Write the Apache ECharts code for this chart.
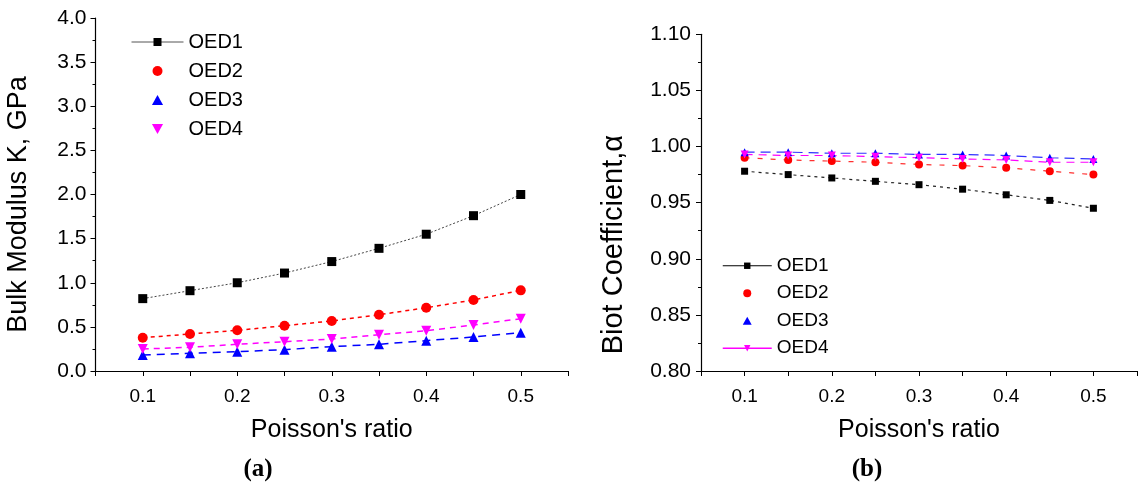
<!DOCTYPE html>
<html>
<head>
<meta charset="utf-8">
<script src="https://cdn.jsdelivr.net/npm/echarts@6/dist/echarts.min.js"></script>
<style>html,body{margin:0;padding:0;background:#fff;}#c{width:1140px;height:490px;}</style>
</head>
<body>
<div id="c"></div>
<script>
const poisson = [0.1, 0.15, 0.2, 0.25, 0.3, 0.35, 0.4, 0.45, 0.5];
const seriesNames = ['OED1', 'OED2', 'OED3', 'OED4'];
// (a) Bulk modulus K, GPa
const kOED1 = [0.82, 0.91, 1.00, 1.11, 1.24, 1.39, 1.55, 1.76, 2.00];
const kOED2 = [0.377, 0.419, 0.461, 0.513, 0.567, 0.638, 0.717, 0.805, 0.914];
const kOED3 = [0.181, 0.200, 0.219, 0.242, 0.276, 0.303, 0.344, 0.385, 0.434];
const kOED4 = [0.249, 0.269, 0.303, 0.332, 0.363, 0.411, 0.457, 0.521, 0.593];
// (b) Biot coefficient
const bOED1 = [0.978, 0.975, 0.972, 0.969, 0.966, 0.962, 0.957, 0.952, 0.945];
const bOED2 = [0.990, 0.988, 0.987, 0.986, 0.984, 0.983, 0.981, 0.978, 0.975];
const bOED3 = [0.995, 0.995, 0.994, 0.994, 0.993, 0.993, 0.992, 0.990, 0.989];
const bOED4 = [0.993, 0.992, 0.992, 0.991, 0.990, 0.989, 0.988, 0.986, 0.986];

const pair = arr => poisson.map((x, i) => [x, arr[i]]);
const FONT = 'Liberation Sans, Arial, sans-serif';
const invTri = 'path://M0,0L10,0L5,9Z';
const upTri = 'path://M5,0L10,9L0,9Z';

function xAxisCfg(gridIndex) {
  return {
    type: 'value', gridIndex, min: 0.05, max: 0.55, interval: 0.05,
    name: "Poisson's ratio", nameLocation: 'middle', nameGap: 47,
    nameTextStyle: { fontFamily: FONT, fontSize: 25, color: '#000' },
    axisLine: { show: true, onZero: false, lineStyle: { color: '#000', width: 1.2 } },
    axisTick: { show: true, inside: false, length: 5, lineStyle: { color: '#000' } },
    axisLabel: {
      margin: 16, fontFamily: FONT, fontSize: 19, color: '#000',
      formatter: v => (Math.round(v * 100) % 10 === 0 && v > 0.07 && v < 0.53) ? v.toFixed(1) : ''
    },
    splitLine: { show: false }
  };
}

const option = {
  backgroundColor: '#fff',
  animation: false,
  grid: [
    { left: 95.5, top: 18, right: 572, bottom: 119 },
    { left: 701, top: 34.3, right: -5.4, bottom: 119 }
  ],
  xAxis: [xAxisCfg(0), xAxisCfg(1)],
  yAxis: [
    {
      type: 'value', gridIndex: 0, min: 0, max: 4, interval: 0.5,
      name: 'Bulk Modulus K, GPa', nameLocation: 'middle', nameGap: 63,
      nameTextStyle: { fontFamily: FONT, fontSize: 27, color: '#000', padding: [0, 20, 0, 0] },
      axisLine: { show: true, lineStyle: { color: '#000', width: 1.2 } },
      axisTick: { show: true, length: 5, lineStyle: { color: '#000' } },
      minorTick: { show: true, splitNumber: 2, length: 3, lineStyle: { color: '#000' } },
      axisLabel: { margin: 9, fontFamily: FONT, fontSize: 21, color: '#000', formatter: v => v.toFixed(1) },
      splitLine: { show: false }
    },
    {
      type: 'value', gridIndex: 1, min: 0.8, max: 1.1, interval: 0.05,
      name: 'Biot Coefficient,α', nameLocation: 'middle', nameGap: 73,
      nameTextStyle: { fontFamily: FONT, fontSize: 29, color: '#000', padding: [0, 84, 0, 0] },
      axisLine: { show: true, lineStyle: { color: '#000', width: 1.2 } },
      axisTick: { show: true, length: 5, lineStyle: { color: '#000' } },
      minorTick: { show: true, splitNumber: 2, length: 3, lineStyle: { color: '#000' } },
      axisLabel: { margin: 10, fontFamily: FONT, fontSize: 21, color: '#000', formatter: v => v.toFixed(2) },
      splitLine: { show: false }
    }
  ],
  legend: [
    {
      orient: 'vertical', left: 131, top: 32, padding: 0, itemWidth: 52, itemHeight: 10, itemGap: 9,
      textStyle: { fontFamily: FONT, fontSize: 20, color: '#000', lineHeight: 20 },
      data: [
        { name: 'OED1', lineStyle: { type: 'solid', color: '#555', width: 1 } },
        { name: 'OED2', icon: 'circle' },
        { name: 'OED3', icon: upTri },
        { name: 'OED4', icon: invTri }
      ]
    },
    {
      orient: 'vertical', left: 722, top: 256, padding: 0, itemWidth: 49, itemHeight: 8, itemGap: 8,
      textStyle: { fontFamily: FONT, fontSize: 19, color: '#000', lineHeight: 19.5 },
      data: [
        { name: 'OED1', lineStyle: { type: 'solid', color: '#000', width: 1 } },
        { name: 'OED2', icon: 'circle' },
        { name: 'OED3', icon: upTri },
        { name: 'OED4', lineStyle: { type: 'solid', color: '#ff00ff', width: 1.5 } }
      ]
    }
  ],
  title: [
    { text: '(a)', left: 253, top: 452, textAlign: 'center',
      textStyle: { fontFamily: 'Liberation Serif, Times New Roman, serif', fontWeight: 'bold', fontSize: 25, color: '#000' } },
    { text: '(b)', left: 862, top: 452, textAlign: 'center',
      textStyle: { fontFamily: 'Liberation Serif, Times New Roman, serif', fontWeight: 'bold', fontSize: 25, color: '#000' } }
  ],
  series: [
    { name: 'OED1', type: 'line', xAxisIndex: 0, yAxisIndex: 0, data: pair(kOED1),
      symbol: 'rect', symbolSize: 9, itemStyle: { color: '#000' },
      lineStyle: { color: '#444', width: 1, type: [2, 2] } },
    { name: 'OED2', type: 'line', xAxisIndex: 0, yAxisIndex: 0, data: pair(kOED2),
      symbol: 'circle', symbolSize: 10, itemStyle: { color: '#ff0000' },
      lineStyle: { color: '#ff0000', width: 1.5, type: [4, 4] } },
    { name: 'OED3', type: 'line', xAxisIndex: 0, yAxisIndex: 0, data: pair(kOED3),
      symbol: 'triangle', symbolSize: 10, itemStyle: { color: '#0000ff' },
      lineStyle: { color: '#0000ff', width: 1.5, type: [8, 6] } },
    { name: 'OED4', type: 'line', xAxisIndex: 0, yAxisIndex: 0, data: pair(kOED4),
      symbol: 'triangle', symbolRotate: 180, symbolSize: 10, itemStyle: { color: '#ff00ff' },
      lineStyle: { color: '#ff00ff', width: 1.5, type: [6, 5] } },

    { name: 'OED1', type: 'line', xAxisIndex: 1, yAxisIndex: 1, data: pair(bOED1),
      symbol: 'rect', symbolSize: 7, itemStyle: { color: '#000' },
      lineStyle: { color: '#222', width: 1.2, type: [3, 4] } },
    { name: 'OED2', type: 'line', xAxisIndex: 1, yAxisIndex: 1, data: pair(bOED2),
      symbol: 'circle', symbolSize: 8, itemStyle: { color: '#ff0000' },
      lineStyle: { color: '#ff3030', width: 1.2, type: [5, 8] } },
    { name: 'OED3', type: 'line', xAxisIndex: 1, yAxisIndex: 1, data: pair(bOED3),
      symbol: 'triangle', symbolSize: 8, itemStyle: { color: '#0000ff' },
      lineStyle: { color: '#3030ff', width: 1.2, type: [10, 6] } },
    { name: 'OED4', type: 'line', xAxisIndex: 1, yAxisIndex: 1, data: pair(bOED4),
      symbol: 'triangle', symbolRotate: 180, symbolSize: 8, itemStyle: { color: '#ff00ff' },
      lineStyle: { color: '#ff00ff', width: 1.2, type: [8, 6] } }
  ]
};

const chart = echarts.init(document.getElementById('c'), null, { renderer: 'canvas' });
chart.setOption(option);
</script>
</body>
</html>
